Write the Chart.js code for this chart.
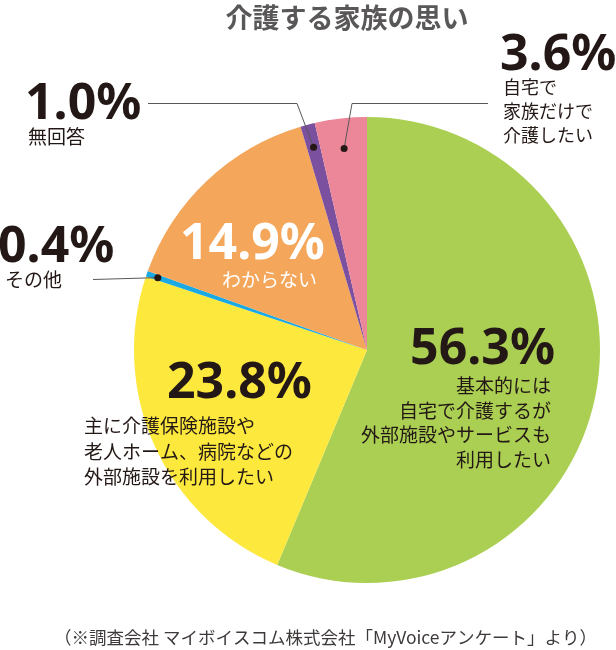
<!DOCTYPE html>
<html><head><meta charset="utf-8">
<script src="https://cdn.jsdelivr.net/npm/chart.js@4"></script>
<style>html,body{margin:0;padding:0;background:#fff;}canvas{display:block;}</style>
</head><body>
<canvas id="c" width="616" height="650"></canvas>
<script>
const categories = ['基本的には自宅で介護するが外部施設やサービスも利用したい','主に介護保険施設や老人ホーム、病院などの外部施設を利用したい','その他','わからない','無回答','自宅で家族だけで介護したい'];
const values = [56.3, 23.8, 0.4, 14.9, 1.0, 3.6];
const valueLabels = ['56.3%','23.8%','0.4%','14.9%','1.0%','3.6%'];
const sliceColors = ['#aacf52','#fde93e','#1aa9e3','#f4a65a','#7b509f','#ec8699'];
const titleText = '介護する家族の思い';
const footerText = '（※調査会社 マイボイスコム株式会社「MyVoiceアンケート」より）';

const INK = '#231815';
const NUMFONT = 'bold 50px "Noto Sans"';
const JPFONT = '"Noto Sans CJK JP"';

function txt(ctx, s, x, y, font, color, align, base, maxW){
  ctx.font = font; ctx.fillStyle = color; ctx.textAlign = align || 'left'; ctx.textBaseline = base || 'alphabetic';
  if (maxW) ctx.fillText(s, x, y, maxW); else ctx.fillText(s, x, y);
}

const labelPlugin = {
  id: 'labels',
  afterDraw(chart){
    const ctx = chart.ctx;
    const meta = chart.getDatasetMeta(0);
    const pt = (i, frac) => { const a = meta.data[i]; const m = (a.startAngle + a.endAngle)/2; return {x: a.x + Math.cos(m)*a.outerRadius*frac, y: a.y + Math.sin(m)*a.outerRadius*frac}; };
    ctx.save();
    // title
    txt(ctx, titleText, 347, 18, 'bold 27px ' + JPFONT, '#595757', 'center', 'middle');
    // leader lines
    ctx.strokeStyle = '#595757'; ctx.lineWidth = 1;
    const dPur = pt(4, 0.9), dPink = pt(5, 0.87), dBlue = pt(2, 0.95);
    ctx.beginPath(); ctx.moveTo(148, 103.5); ctx.lineTo(297, 103.5); ctx.lineTo(dPur.x, dPur.y); ctx.stroke();
    ctx.beginPath(); ctx.moveTo(488, 103.5); ctx.lineTo(352, 103.5); ctx.lineTo(dPink.x, dPink.y); ctx.stroke();
    ctx.beginPath(); ctx.moveTo(93, 279.5); ctx.lineTo(dBlue.x, dBlue.y); ctx.stroke();
    ctx.fillStyle = INK;
    [dPur, dPink, dBlue].forEach(d => { ctx.beginPath(); ctx.arc(d.x, d.y, 3.5, 0, Math.PI*2); ctx.fill(); });
    // big numbers
    txt(ctx, valueLabels[5], 500, 70, NUMFONT, INK);
    txt(ctx, valueLabels[4], 25, 119, NUMFONT, INK);
    txt(ctx, valueLabels[2], -2, 262, NUMFONT, INK);
    txt(ctx, valueLabels[3], 180, 259, NUMFONT, '#ffffff');
    txt(ctx, valueLabels[0], 555, 364, NUMFONT, INK, 'right');
    txt(ctx, valueLabels[1], 167, 398, NUMFONT, INK);
    // captions
    const f18 = '18px ' + JPFONT, f19 = '19px ' + JPFONT;
    ['自宅で','家族だけで','介護したい'].forEach((s,k) => txt(ctx, s, 503, 87 + k*24, f18, INK, 'left', 'middle'));
    txt(ctx, '無回答', 28, 137, f19, INK, 'left', 'middle');
    txt(ctx, 'その他', 5, 280, f19, INK, 'left', 'middle');
    txt(ctx, 'わからない', 222, 280, f19, '#ffffff', 'left', 'middle');
    ['基本的には','自宅で介護するが','外部施設やサービスも','利用したい'].forEach((s,k) => txt(ctx, s, 551, 386 + k*24.5, f19, INK, 'right', 'middle'));
    ['主に介護保険施設や','老人ホーム、病院などの','外部施設を利用したい'].forEach((s,k) => txt(ctx, s, 84, 426 + k*25.5, f19, INK, 'left', 'middle'));
    // footer
    txt(ctx, footerText, 54, 637, '17.5px ' + JPFONT, '#3e3a39', 'left', 'middle', 545);
    ctx.restore();
  }
};

new Chart(document.getElementById('c'), {
  type: 'pie',
  data: { labels: categories, datasets: [{ data: values, backgroundColor: sliceColors, borderWidth: 0 }] },
  options: {
    responsive: false, animation: false,
    layout: { padding: { left: 134, right: 16, top: 117, bottom: 67 } },
    plugins: { legend: { display: false }, tooltip: { enabled: false } }
  },
  plugins: [labelPlugin]
});
</script>
</body></html>
